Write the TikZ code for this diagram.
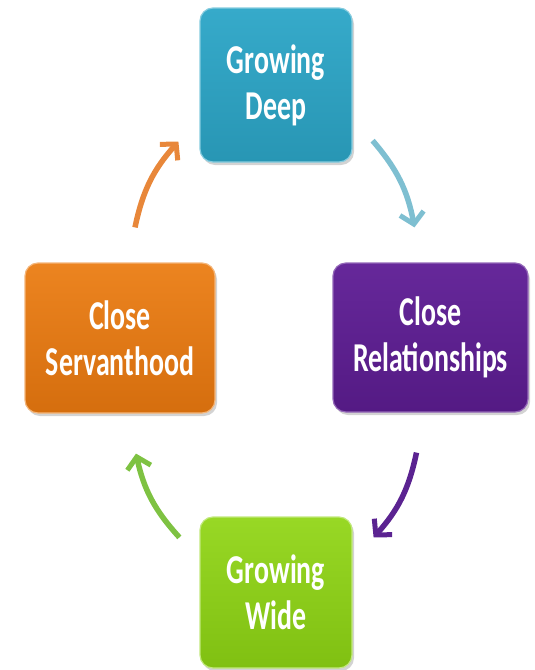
\documentclass[tikz,border=0pt]{standalone}
\usepackage{fontspec}
\setmainfont{Carlito}
\newfontfamily\boxfont[FakeStretch=0.68]{Carlito}
\usetikzlibrary{arrows.meta,shadows}

\definecolor{deepc}{HTML}{2896B4}
\definecolor{deeplt}{HTML}{36AACA}
\definecolor{relc}{HTML}{541A84}
\definecolor{rellt}{HTML}{66289A}
\definecolor{servc}{HTML}{D56E0E}
\definecolor{servlt}{HTML}{EC8420}
\definecolor{widec}{HTML}{80C012}
\definecolor{widelt}{HTML}{98D825}
\definecolor{arrdeep}{HTML}{7EBFD1}
\definecolor{arrrel}{HTML}{5B2391}
\definecolor{arrwide}{HTML}{7EC242}
\definecolor{arrserv}{HTML}{E8873A}

\tikzset{
  box/.style={rounded corners=13pt, align=center, text=white,
    font=\boxfont\bfseries\fontsize{41}{46}\selectfont, line width=1.2pt,
    drop shadow={opacity=0.35, shadow xshift=2pt, shadow yshift=-3pt}},
  arr/.style={line width=5.5pt, -{Straight Barb[length=11pt,width=24pt,line width=5pt]}}
}

\begin{document}
\begin{tikzpicture}[x=1pt,y=1pt]

\useasboundingbox (0,0) rectangle (535,-670);

% Boxes

\node [box, minimum width=152pt, minimum height=154pt, draw=deeplt!60!white, top color=deeplt, bottom color=deepc] (deep) at (276,-85) {Growing\\Deep};

\node [box, minimum width=195pt, minimum height=149pt, draw=rellt!70!white, top color=rellt, bottom color=relc] (relations) at (430.5,-337.5) {Close\\Relationships};

\node [box, minimum width=190pt, minimum height=150pt, draw=servlt!60!white, top color=servlt, bottom color=servc] (servant) at (120,-338) {Close\\Servanthood};

\node [box, minimum width=152pt, minimum height=151pt, draw=widelt!60!white, top color=widelt, bottom color=widec] (wide) at (276,-592.5) {Growing\\Wide};

%Arrows
\draw [arr, arrdeep] ([shift={(20,22)}]deep.south east) to [bend left=15] ([shift={(-16,35)}]relations.north);
\draw [arr, arrrel] ([shift={(-14,-40)}]relations.south) to [bend left=15] ([shift={(21,-21)}]wide.north east);
\draw [arr, arrwide] ([shift={(-20,-21)}]wide.north west) to [bend left=15] ([shift={(16,-40)}]servant.south);
\draw [arr, arrserv] ([shift={(15,35)}]servant.north) to [bend left=15] ([shift={(-21,21)}]deep.south west);

\end{tikzpicture}
\end{document}
